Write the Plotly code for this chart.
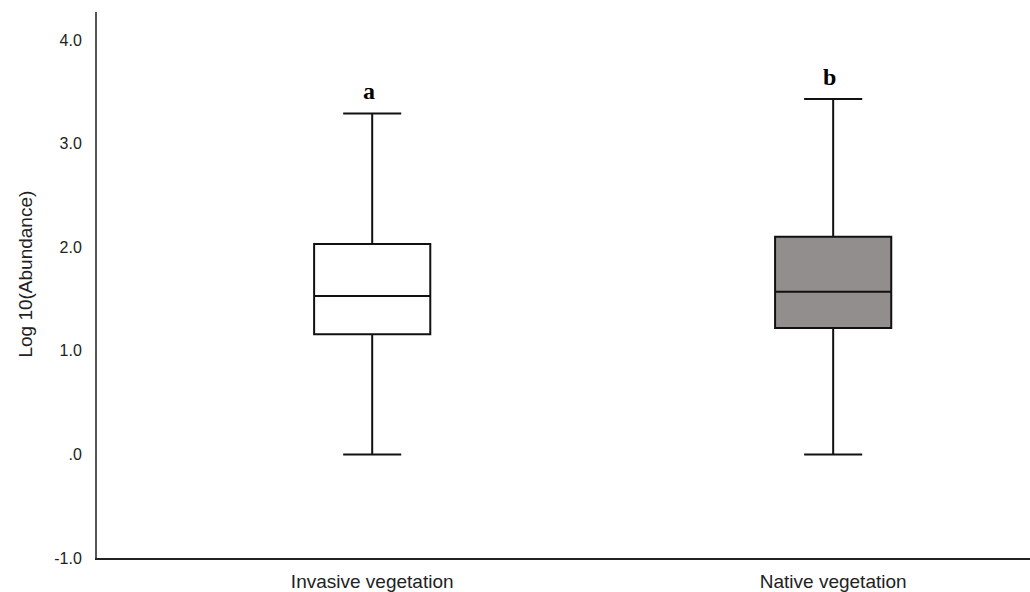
import plotly.graph_objects as go

# Summary statistics of log10 abundance per vegetation type
groups = ["Invasive vegetation", "Native vegetation"]
lower_whisker = [0.0, 0.0]
q1 = [1.16, 1.22]
median = [1.53, 1.57]
q3 = [2.03, 2.10]
upper_whisker = [3.29, 3.43]
letters = ["a", "b"]
fills = ["#ffffff", "#938e8e"]

# y-axis tick labels in the SPSS style
tick_values = [-1, 0, 1, 2, 3, 4]
tick_labels = ["-1.0", ".0", "1.0", "2.0", "3.0", "4.0"]

sans = "Liberation Sans, Arial, sans-serif"

fig = go.Figure()
for i, g in enumerate(groups):
    fig.add_trace(go.Box(
        x=[i],
        q1=[q1[i]], median=[median[i]], q3=[q3[i]],
        lowerfence=[lower_whisker[i]], upperfence=[upper_whisker[i]],
        width=0.252,
        whiskerwidth=0.5,
        fillcolor=fills[i],
        line=dict(color="#111111", width=2),
        boxpoints=False,
        hoverinfo="skip",
        showlegend=False,
    ))
    fig.add_annotation(
        x=i - 0.008, y=upper_whisker[i] + 0.07,
        text=f"<b>{letters[i]}</b>",
        showarrow=False, yanchor="bottom",
        font=dict(family="Liberation Serif, Times New Roman, serif", size=24, color="#000"),
    )

fig.add_annotation(
    xref="paper", yref="paper", x=0, y=0.52, xshift=-84,
    text="Log 10(Abundance)", textangle=-90, showarrow=False,
    font=dict(family=sans, size=19, color="#222"),
)

fig.update_layout(
    width=1030, height=592,
    margin=dict(l=97, r=0, t=12, b=32),
    paper_bgcolor="white", plot_bgcolor="white",
    xaxis=dict(
        range=[-0.597, 1.427],
        tickvals=[0, 1], ticktext=groups,
        showgrid=False, zeroline=False,
        showline=True, linecolor="#222", linewidth=1.5,
        ticks="", ticklabelstandoff=5,
        tickfont=dict(family=sans, size=19, color="#222"),
    ),
    yaxis=dict(
        range=[-1.0, 4.27],
        tickvals=tick_values, ticktext=tick_labels,
        showgrid=False, zeroline=False,
        showline=True, linecolor="#555", linewidth=2,
        ticks="", ticklabelstandoff=10,
        tickfont=dict(family=sans, size=16, color="#222"),
    ),
)

fig.write_html("out.html")
